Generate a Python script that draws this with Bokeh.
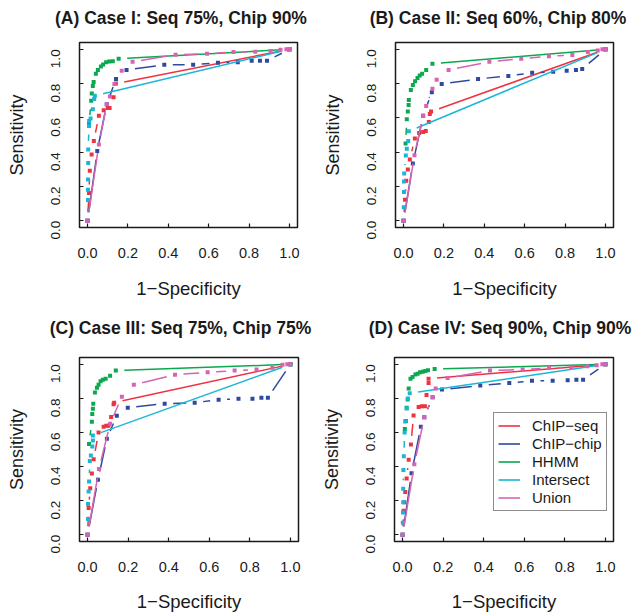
import math
from bokeh.plotting import figure
from bokeh.layouts import column, row
from bokeh.models import (FixedTicker, NumeralTickFormatter, Range1d, Legend,
                          LegendItem, LinearAxis)
from bokeh.embed import file_html
from bokeh.resources import INLINE

# ---------------- data ----------------
TICKS = [0.0, 0.2, 0.4, 0.6, 0.8, 1.0]
SERIES_NAMES = ["ChIP\u2212seq", "ChIP\u2212chip", "HHMM", "Intersect", "Union"]
PANEL_TITLES = ["(A) Case I: Seq 75%, Chip 90%",
                "(B) Case II: Seq 60%, Chip 80%",
                "(C) Case III: Seq 75%, Chip 75%",
                "(D) Case IV: Seq 90%, Chip 90%"]
X_LABEL = "1\u2212Specificity"
Y_LABEL = "Sensitivity"

# Panel A
a_seq_fpr = [0, 0.007, 0.011, 0.02, 0.031, 0.056, 0.08, 0.1, 0.109, 0.129, 0.14, 1.0]
a_seq_tpr = [0, 0.161, 0.292, 0.386, 0.465, 0.612, 0.645, 0.657, 0.657, 0.72, 0.80, 1.0]
a_chip_fpr = [0, 0.048, 0.095, 0.141, 0.193, 0.38, 0.523, 0.646, 0.744, 0.813, 0.854, 0.889, 1.0]
a_chip_tpr = [0, 0.406, 0.68, 0.827, 0.88, 0.91, 0.91, 0.922, 0.925, 0.933, 0.933, 0.933, 1.0]
a_hhmm_fpr = [0.007, 0.018, 0.021, 0.026, 0.03, 0.041, 0.051, 0.066, 0.077, 0.092, 0.107, 0.125, 0.154, 1.0]
a_hhmm_tpr = [0.567, 0.70, 0.743, 0.786, 0.81, 0.857, 0.88, 0.90, 0.912, 0.924, 0.929, 0.931, 0.945, 1.0]
a_int_fpr = [0, 0.002, 0.002, 0.002, 0.003, 0.003, 0.007, 0.008, 0.015, 0.026, 0.033, 0.036, 1.0]
a_int_tpr = [0, 0.12, 0.18, 0.24, 0.337, 0.416, 0.553, 0.582, 0.596, 0.651, 0.71, 0.729, 1.0]
a_uni_fpr = [0, 0.056, 0.095, 0.111, 0.133, 0.169, 0.223, 0.436, 0.592, 0.723, 0.831, 0.907, 0.956, 0.985, 1.0]
a_uni_tpr = [0, 0.445, 0.68, 0.725, 0.798, 0.875, 0.927, 0.969, 0.975, 0.984, 0.986, 0.99, 0.998, 1.0, 1.0]

# Panel B
b_seq_fpr = [0, 0.007, 0.013, 0.021, 0.031, 0.056, 0.077, 0.097, 0.11, 0.125, 0.13, 0.136, 1.0]
b_seq_tpr = [0, 0.122, 0.233, 0.298, 0.357, 0.48, 0.512, 0.518, 0.524, 0.576, 0.622, 0.637, 1.0]
b_chip_fpr = [0, 0.046, 0.097, 0.14, 0.189, 0.369, 0.519, 0.637, 0.741, 0.808, 0.854, 0.885, 1.0]
b_chip_tpr = [0, 0.333, 0.612, 0.75, 0.798, 0.827, 0.845, 0.863, 0.869, 0.875, 0.88, 0.886, 1.0]
b_hhmm_fpr = [0.01, 0.016, 0.021, 0.025, 0.026, 0.036, 0.046, 0.057, 0.069, 0.08, 0.092, 0.112, 0.143, 1.0]
b_hhmm_tpr = [0.451, 0.592, 0.637, 0.675, 0.704, 0.763, 0.792, 0.814, 0.833, 0.847, 0.857, 0.88, 0.916, 1.0]
b_int_fpr = [0, 0.001, 0.002, 0.002, 0.003, 0.011, 0.016, 0.023, 0.026, 1.0]
b_int_tpr = [0, 0.078, 0.167, 0.229, 0.275, 0.38, 0.42, 0.465, 0.522, 1.0]
b_uni_fpr = [0, 0.054, 0.097, 0.112, 0.143, 0.164, 0.223, 0.425, 0.583, 0.72, 0.836, 0.913, 0.962, 0.985, 1.0]
b_uni_tpr = [0, 0.382, 0.612, 0.669, 0.77, 0.822, 0.88, 0.927, 0.945, 0.96, 0.967, 0.984, 0.994, 1.0, 1.0]

# Panel C
c_seq_fpr = [0, 0.005, 0.013, 0.021, 0.03, 0.054, 0.079, 0.092, 0.103, 0.116, 0.128, 0.131, 1.0]
c_seq_tpr = [0, 0.156, 0.273, 0.359, 0.443, 0.60, 0.633, 0.639, 0.639, 0.691, 0.766, 0.775, 1.0]
c_chip_fpr = [0, 0.051, 0.095, 0.144, 0.198, 0.38, 0.528, 0.646, 0.744, 0.813, 0.857, 0.889, 1.0]
c_chip_tpr = [0, 0.322, 0.563, 0.698, 0.745, 0.769, 0.775, 0.792, 0.798, 0.798, 0.804, 0.804, 1.0]
c_hhmm_fpr = [0.007, 0.021, 0.023, 0.026, 0.028, 0.036, 0.046, 0.054, 0.064, 0.075, 0.089, 0.111, 0.139, 1.0]
c_hhmm_tpr = [0.533, 0.663, 0.708, 0.739, 0.769, 0.835, 0.863, 0.88, 0.90, 0.91, 0.916, 0.933, 0.963, 1.0]
c_int_fpr = [0, 0.002, 0.002, 0.005, 0.007, 0.011, 0.016, 0.023, 0.026, 0.026, 1.0]
c_int_tpr = [0, 0.092, 0.18, 0.253, 0.312, 0.433, 0.465, 0.518, 0.553, 0.582, 1.0]
c_uni_fpr = [0, 0.056, 0.111, 0.169, 0.228, 0.431, 0.592, 0.725, 0.833, 0.911, 0.961, 0.985, 1.0]
c_uni_tpr = [0, 0.386, 0.651, 0.81, 0.88, 0.939, 0.953, 0.963, 0.969, 0.98, 0.998, 1.0, 1.0]

# Panel D
d_seq_fpr = [0, 0.005, 0.008, 0.013, 0.02, 0.03, 0.041, 0.054, 0.079, 0.095, 0.11, 0.118, 0.128, 0.128, 1.0]
d_seq_tpr = [0, 0.14, 0.19, 0.25, 0.33, 0.44, 0.53, 0.70, 0.749, 0.754, 0.754, 0.82, 0.89, 0.916, 1.0]
d_chip_fpr = [0, 0.044, 0.09, 0.107, 0.148, 0.194, 0.383, 0.526, 0.638, 0.74, 0.814, 0.857, 0.89, 1.0]
d_chip_tpr = [0, 0.36, 0.634, 0.69, 0.807, 0.852, 0.875, 0.89, 0.903, 0.903, 0.906, 0.91, 0.91, 1.0]
d_hhmm_fpr = [0.011, 0.016, 0.02, 0.025, 0.03, 0.039, 0.049, 0.063, 0.074, 0.086, 0.099, 0.112, 0.125, 0.158, 1.0]
d_hhmm_tpr = [0.62, 0.667, 0.745, 0.793, 0.858, 0.916, 0.926, 0.94, 0.945, 0.953, 0.957, 0.961, 0.965, 0.973, 1.0]
d_int_fpr = [0, 0.001, 0.002, 0.003, 0.003, 0.004, 0.006, 0.01, 0.013, 0.02, 0.026, 0.035, 1.0]
d_int_tpr = [0, 0.07, 0.13, 0.19, 0.27, 0.38, 0.46, 0.60, 0.665, 0.74, 0.80, 0.83, 1.0]
d_uni_fpr = [0, 0.058, 0.107, 0.148, 0.163, 0.222, 0.431, 0.592, 0.722, 0.831, 0.91, 0.957, 0.985, 1.0]
d_uni_tpr = [0, 0.413, 0.69, 0.807, 0.858, 0.92, 0.963, 0.969, 0.979, 0.981, 0.988, 0.994, 1.0, 1.0]

PANEL_DATA = [
    [(a_seq_fpr, a_seq_tpr), (a_chip_fpr, a_chip_tpr), (a_hhmm_fpr, a_hhmm_tpr), (a_int_fpr, a_int_tpr), (a_uni_fpr, a_uni_tpr)],
    [(b_seq_fpr, b_seq_tpr), (b_chip_fpr, b_chip_tpr), (b_hhmm_fpr, b_hhmm_tpr), (b_int_fpr, b_int_tpr), (b_uni_fpr, b_uni_tpr)],
    [(c_seq_fpr, c_seq_tpr), (c_chip_fpr, c_chip_tpr), (c_hhmm_fpr, c_hhmm_tpr), (c_int_fpr, c_int_tpr), (c_uni_fpr, c_uni_tpr)],
    [(d_seq_fpr, d_seq_tpr), (d_chip_fpr, d_chip_tpr), (d_hhmm_fpr, d_hhmm_tpr), (d_int_fpr, d_int_tpr), (d_uni_fpr, d_uni_tpr)],
]

# ---------------- style ----------------
COLORS = ["#EE3340", "#2E4A9E", "#0BA84F", "#1BB6D6", "#D763B3"]
FONT = "Liberation Sans"
INK = "#1a1a1a"
GAP = 8.5  # px gap around points (R type="b")
PAD = 0.04  # R-style 4% axis extension


def gapped_segments(xs, ys, sx, sy, g=GAP):
    x0, y0, x1, y1 = [], [], [], []
    for i in range(len(xs) - 1):
        dx = xs[i + 1] - xs[i]
        dy = ys[i + 1] - ys[i]
        d = math.hypot(dx * sx, dy * sy)
        if d > 2 * g:
            f = g / d
            x0.append(xs[i] + f * dx)
            y0.append(ys[i] + f * dy)
            x1.append(xs[i + 1] - f * dx)
            y1.append(ys[i + 1] - f * dy)
    return x0, y0, x1, y1


def make_panel(title, data, width, height, left, top, fw, fh,
               title_shift, title_standoff, xl_standoff, xa_standoff,
               legend_loc=None):
    p = figure(width=width, height=height,
               x_range=Range1d(-PAD, 1 + PAD), y_range=Range1d(-PAD, 1 + PAD),
               output_backend="svg", toolbar_location=None,
               min_border_left=left, min_border_top=top,
               min_border_right=width - left - fw,
               min_border_bottom=height - top - fh)
    p.grid.visible = False
    p.outline_line_color = INK
    p.outline_line_width = 1.5
    p.background_fill_color = "white"
    p.border_fill_color = "white"

    sx = fw / (1 + 2 * PAD)
    sy = fh / (1 + 2 * PAD)

    # panel title, drawn as the single label of a bare axis above the frame
    tc = round((fw / 2 + title_shift) / sx - PAD, 4)
    top_axis = LinearAxis(ticker=FixedTicker(ticks=[tc], minor_ticks=[]),
                          major_label_overrides={tc: title},
                          axis_line_color=None, major_tick_line_color=None,
                          minor_tick_line_color=None,
                          major_tick_in=0, major_tick_out=0,
                          major_label_standoff=int(title_standoff),
                          major_label_text_font=FONT,
                          major_label_text_font_style="bold",
                          major_label_text_font_size="17.5px",
                          major_label_text_color=INK)
    p.add_layout(top_axis, "above")

    for ax in (p.below[0], p.left[0]):
        ax.ticker = FixedTicker(ticks=TICKS, minor_ticks=[])
        ax.formatter = NumeralTickFormatter(format="0.0")
        ax.axis_line_color = None
        ax.major_tick_in = 4
        ax.major_tick_out = 0
        ax.major_tick_line_color = INK
        ax.major_tick_line_width = 1.2
        ax.minor_tick_line_color = None
        ax.major_label_text_font = FONT
        ax.major_label_text_color = INK
        ax.axis_label_text_font = FONT
        ax.axis_label_text_font_style = "normal"
        ax.axis_label_text_color = INK

    xa = p.below[0]
    xa.axis_label = X_LABEL
    xa.axis_label_text_font_size = "18.5px"
    xa.major_label_text_font_size = "14.5px"
    xa.major_label_standoff = xl_standoff
    xa.axis_label_standoff = xa_standoff

    ya = p.left[0]
    ya.axis_label = Y_LABEL
    ya.axis_label_text_font_size = "18px"
    ya.major_label_text_font_size = "13.5px"
    ya.major_label_orientation = math.pi / 2
    ya.major_label_standoff = 24
    ya.axis_label_standoff = 17

    for (xs, ys), color in zip(data, COLORS):
        x0, y0, x1, y1 = gapped_segments(xs, ys, sx, sy)
        p.segment(x0=x0, y0=y0, x1=x1, y1=y1, line_color=color, line_width=1.5)
        p.scatter(xs, ys, marker="square", size=4, fill_color=color,
                  line_color=None)

    if legend_loc is not None:
        items = []
        for name, color in zip(SERIES_NAMES, COLORS):
            # legend swatch renderer, placed outside the visible range
            r = p.line([-5, -4], [-5, -4], line_color=color, line_width=1.6)
            items.append(LegendItem(label=name, renderers=[r]))
        leg = Legend(items=items, location=legend_loc,
                     label_text_font=FONT, label_text_font_size="15px",
                     label_text_color=INK,
                     glyph_width=22, glyph_height=17, label_height=17,
                     label_standoff=12, spacing=1, padding=4, margin=0,
                     border_line_color=INK, border_line_width=1,
                     background_fill_color="white", background_fill_alpha=1.0)
        p.add_layout(leg)
    return p


pA = make_panel(PANEL_TITLES[0], PANEL_DATA[0], 316, 314, 79, 42, 218, 185,
                -7.5, 15, 20, 17)
pB = make_panel(PANEL_TITLES[1], PANEL_DATA[1], 316, 314, 79, 42, 218, 185,
                -6.5, 15, 20, 17)
pC = make_panel(PANEL_TITLES[2], PANEL_DATA[2], 316, 301, 79, 43, 219, 184,
                -8.5, 20, 20, 16)
pD = make_panel(PANEL_TITLES[3], PANEL_DATA[3], 316, 301, 78, 43, 219, 184,
                -4, 20, 20, 16, legend_loc=(99, 30))

layout = column(row(pA, pB), row(pC, pD))
open("out.html", "w").write(file_html(layout, INLINE))
